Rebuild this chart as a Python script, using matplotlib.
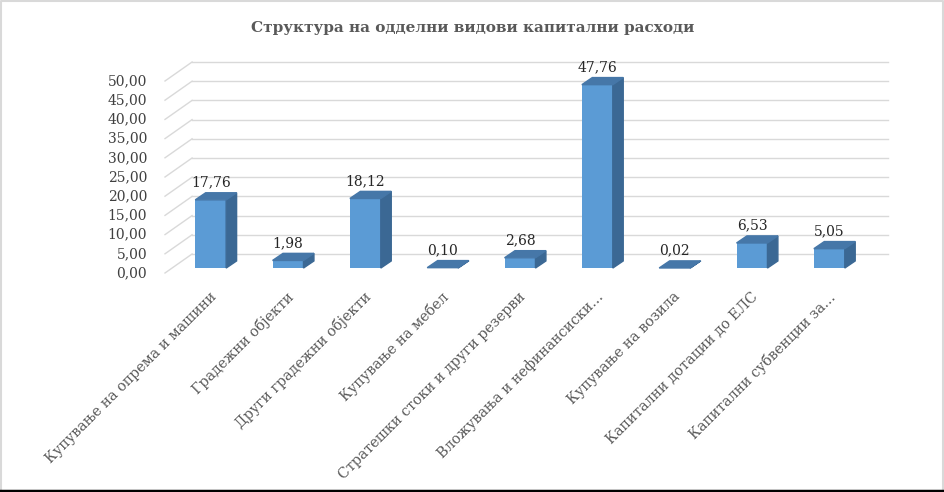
import numpy as np
import matplotlib.pyplot as plt
from matplotlib.patches import Polygon
from matplotlib.lines import Line2D

# data
kategorii = ["Купување на опрема и машини", "Градежни објекти", "Други градежни објекти",
             "Купување на мебел", "Стратешки стоки и други резерви",
             "Вложувања и нефинансиски...", "Купување на возила",
             "Капитални дотации до ЕЛС", "Капитални субвенции за..."]
vrednosti = [17.76, 1.98, 18.12, 0.10, 2.68, 47.76, 0.02, 6.53, 5.05]
y_ticks = [0, 5, 10, 15, 20, 25, 30, 35, 40, 45, 50]
naslov = "Структура на одделни видови капитални расходи"

plt.rcParams['font.family'] = ['DejaVu Serif']

W, H = 945, 492
fig = plt.figure(figsize=(W/100, H/100), dpi=100)

# 3D look: depth of the box in data units
DX, DY = 0.35, 4.95
f = 0.26              # where the bar front sits in the depth
BW = 0.40             # bar width
BDX, BDY = 0.135, 1.85  # bar depth

# axes placed so front 0 is at y=273px, x=-0.5 at 165px
left, right, bottom, top = 165, 888, 273, 62
ax = fig.add_axes([left/W, 1-bottom/H, (right-left)/W, (bottom-top)/H])
ax.set_xlim(-0.5, len(vrednosti) - 0.5 + DX)
ax.set_ylim(0, max(y_ticks) + DY)
ax.axis('off')

grid_c = '#d9d9d9'
for v in y_ticks:
    ax.plot([-0.5, -0.5 + DX], [v, v + DY], color=grid_c, lw=1, clip_on=False, zorder=1)
    ax.plot([-0.5 + DX, len(vrednosti) - 0.5 + DX], [v + DY, v + DY], color=grid_c, lw=1,
            clip_on=False, zorder=1)
    ax.text(-0.73, v, f"{v:.2f}".replace('.', ','), ha='right', va='center',
            fontsize=10, color='#404040')

x = np.arange(len(vrednosti))
xf = x + f * DX
yb = f * DY
front = '#5b9bd5'
topc = '#4677a8'
side = '#3b6894'
ax.bar(xf, vrednosti, width=BW, bottom=yb, color=front, zorder=3)
for xi, v in zip(xf, vrednosti):
    x0, x1 = xi - BW/2, xi + BW/2
    y1 = yb + v
    ax.add_patch(Polygon([[x1, yb], [x1 + BDX, yb + BDY], [x1 + BDX, y1 + BDY], [x1, y1]],
                         closed=True, color=side, zorder=3))
    ax.add_patch(Polygon([[x0, y1], [x1, y1], [x1 + BDX, y1 + BDY], [x0 + BDX, y1 + BDY]],
                         closed=True, color=topc, zorder=3))
    ax.text(xi, y1 + BDY + 0.9, f"{v:.2f}".replace('.', ','), ha='center', va='bottom',
            fontsize=10, color='#262626', zorder=4)

for xi, lab in zip(x, kategorii):
    ax.text(xi + 0.07, -4.3, lab, rotation=45, rotation_mode='anchor', ha='right', va='top',
            fontsize=10.3, color='#595959')

fig.text(0.5, 1 - 28/H, naslov, ha='center', va='center', fontsize=11,
         fontweight='bold', color='#595959')

# chart border
fig.add_artist(Line2D([0.5/W, 0.5/W, 1 - 1.5/W, 1 - 1.5/W], [0.005, 1 - 1/H, 1 - 1/H, 0.005],
                      color='#d9d9d9', lw=1.5))
fig.add_artist(Line2D([0, 1], [1.5/H, 1.5/H], color='black', lw=2.5))

fig.savefig('out.png', dpi=100, facecolor='white')
